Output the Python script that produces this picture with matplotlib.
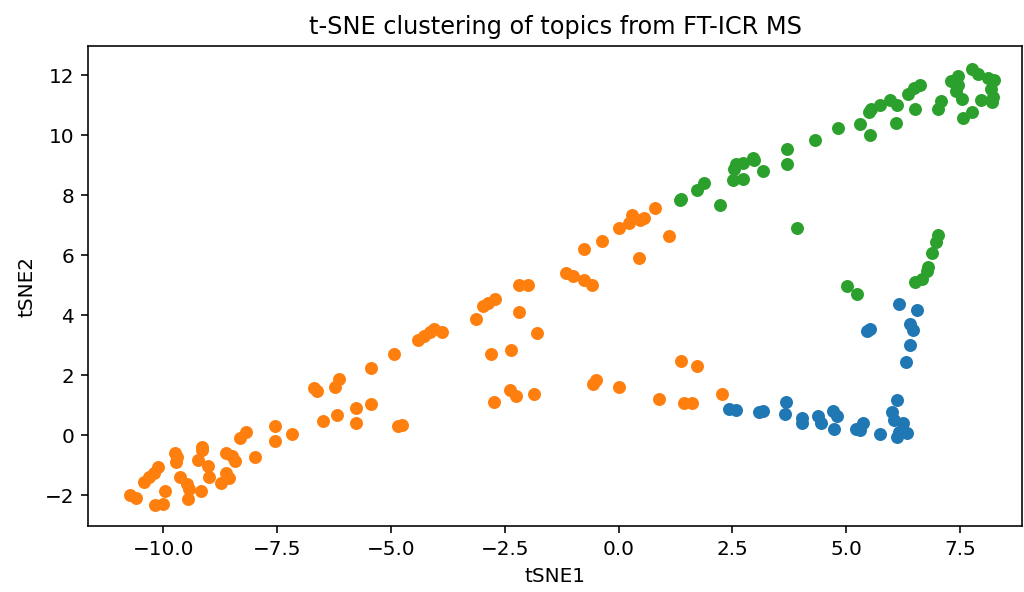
import matplotlib
matplotlib.use("Agg")
import matplotlib.pyplot as plt

# Cluster 0 (blue)
c0_x = [2.43, 2.58, 3.09, 3.17, 3.67, 3.66, 4.02, 4.04, 4.37, 4.45, 4.72, 4.80, 4.73,
        5.22, 5.38, 5.30, 5.75, 6.11, 6.00, 6.05, 6.25, 6.16, 6.34, 6.12, 6.16, 6.55,
        5.45, 5.52, 6.40, 6.47, 6.40, 6.31]
c0_y = [0.87, 0.83, 0.77, 0.80, 1.09, 0.71, 0.56, 0.41, 0.64, 0.39, 0.81, 0.64, 0.20,
        0.19, 0.39, 0.17, 0.03, 1.17, 0.76, 0.50, 0.39, 0.11, 0.08, -0.06, 4.38, 4.17,
        3.48, 3.54, 3.70, 3.52, 3.00, 2.44]

# Cluster 1 (orange)
c1_x = [-10.72, -10.59, -10.42, -10.31, -10.20, -10.12, -10.18, -10.01, -9.97, -9.73,
        -9.69, -9.72, -9.64, -9.48, -9.43, -9.45, -9.16, -9.23, -9.14, -9.15, -9.02,
        -8.99, -8.74, -8.63, -8.61, -8.55, -8.49, -8.42, -8.32, -8.18, -7.98, -7.55,
        -7.54, -7.18, -6.50, -6.69, -6.62, -6.23, -6.14, -6.19, -5.77, -5.76, -5.44,
        -5.43, -4.93, -4.84, -4.75, -4.41, -4.27, -4.14, -4.05, -3.87, -3.12, -2.97,
        -2.87, -2.72, -2.79, -2.73, -2.36, -2.38, -2.26, -2.19, -1.99, -2.18, -1.78,
        -1.86, -1.15, -1.01, -0.76, -0.58, -0.75, -0.36, 0.01, 0.23, 0.30, 0.47, 0.56,
        0.81, 0.46, 1.10, -0.55, -0.49, 0.00, 0.88, 1.37, 1.73, 1.44, 1.62, 2.28]
c1_y = [-2.01, -2.11, -1.56, -1.41, -1.26, -1.06, -2.33, -2.31, -1.86, -0.58,
        -0.74, -0.90, -1.40, -1.63, -1.79, -2.14, -1.87, -0.84, -0.39, -0.48, -1.04,
        -1.41, -1.59, -0.61, -1.26, -1.42, -0.69, -0.87, -0.11, 0.11, -0.74, 0.31,
        -0.21, 0.03, 0.46, 1.57, 1.47, 1.59, 1.87, 0.67, 0.89, 0.41, 1.03,
        2.23, 2.71, 0.31, 0.33, 3.16, 3.32, 3.44, 3.53, 3.43, 3.88, 4.29,
        4.42, 4.53, 2.71, 1.12, 2.84, 1.51, 1.32, 5.02, 5.01, 4.09, 3.41,
        1.37, 5.39, 5.31, 5.17, 4.99, 6.22, 6.49, 6.92, 7.08, 7.33, 7.17, 7.24,
        7.58, 5.92, 6.64, 1.69, 1.84, 1.61, 1.22, 2.48, 2.32, 1.08, 1.08, 1.37]

# Cluster 2 (green)
c2_x = [1.35, 1.37, 1.72, 1.88, 2.23, 2.51, 2.53, 2.57, 2.74, 2.74, 2.95, 2.98, 3.17,
        3.69, 3.71, 3.93, 4.31, 4.82, 5.02, 5.24, 5.30, 5.52, 5.49, 5.54, 5.74, 5.96,
        6.11, 6.10, 6.36, 6.50, 6.62, 6.52, 7.02, 7.08, 7.30, 7.45, 7.46, 7.41, 7.54,
        7.56, 7.76, 7.76, 7.90, 8.12, 8.24, 8.19, 8.23, 8.21, 7.95, 7.01, 6.98, 6.89,
        6.80, 6.77, 6.67, 6.52]
c2_y = [7.83, 7.87, 8.16, 8.42, 7.68, 8.52, 8.86, 9.03, 9.09, 8.54, 9.23, 9.19, 8.82,
        9.03, 9.54, 6.92, 9.83, 10.24, 4.98, 4.72, 10.39, 10.02, 10.76, 10.86, 11.02, 11.17,
        11.00, 10.41, 11.39, 11.56, 11.69, 10.87, 10.89, 11.14, 11.80, 11.97, 11.69, 11.46, 11.22,
        10.56, 10.78, 12.22, 12.03, 11.91, 11.83, 11.53, 11.26, 11.11, 11.16, 6.69, 6.44, 6.06,
        5.61, 5.48, 5.20, 5.10]

DPI = 144
fig = plt.figure(figsize=(1024 / DPI, 592 / DPI), dpi=DPI)
ax = fig.add_axes([0.086, 0.1115, 0.912, 0.8105])
ax.scatter(c0_x, c0_y, s=30, color="tab:blue")
ax.scatter(c1_x, c1_y, s=30, color="tab:orange")
ax.scatter(c2_x, c2_y, s=30, color="tab:green")
ax.set_xlim(-11.65, 8.86)
ax.set_ylim(-3.03, 12.97)
ax.set_xlabel("tSNE1")
ax.set_ylabel("tSNE2")
ax.set_title("t-SNE clustering of topics from FT-ICR MS")
fig.savefig("out.png", dpi=DPI)
